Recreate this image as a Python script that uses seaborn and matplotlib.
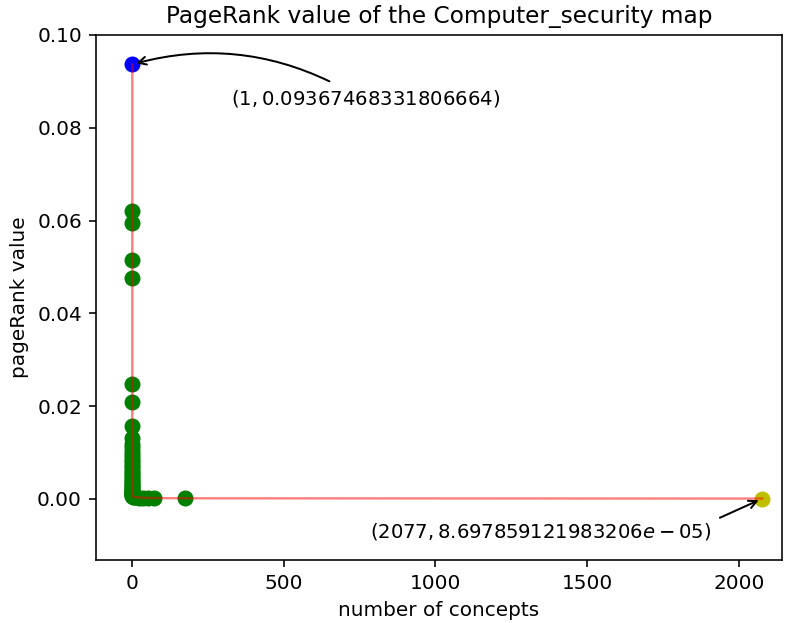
import matplotlib
matplotlib.use("Agg")
import matplotlib.pyplot as plt
import seaborn as sns
import pandas as pd

# PageRank values, ordered from the highest value down to the lowest,
# with the number of concepts that share each value
concepts = [1, 1, 1, 1, 1, 1, 1, 1, 1, 1, 1, 1, 1, 1, 1, 1, 1, 1, 1, 1,
            1, 1, 1, 1, 1, 1, 1, 1, 1, 1, 1, 1, 1, 1, 1, 1, 1, 1, 1, 1,
            2, 4, 8, 14, 23, 37, 52, 71, 175, 2077]
pagerank = [0.09367468331806664, 0.0621, 0.0594, 0.0515, 0.0476, 0.0248,
            0.0210, 0.0158, 0.0131, 0.0119, 0.0112, 0.0104, 0.0098, 0.0091,
            0.0085, 0.0079, 0.0073, 0.0068, 0.0063, 0.0058, 0.0054, 0.0049,
            0.0045, 0.0041, 0.0037, 0.0034, 0.0031, 0.0028, 0.0025, 0.0022,
            0.0020, 0.0018, 0.0016, 0.0014, 0.0012, 0.0011, 0.0010, 0.0009,
            0.0008, 0.0007, 0.00060, 0.00052, 0.00045, 0.00038, 0.00032,
            0.00027, 0.00023, 0.00020, 0.00015, 8.697859121983206e-05]

title = "PageRank value of the Computer_security map"
x_label = "number of concepts"
y_label = "pageRank value"

df = pd.DataFrame({"concepts": concepts, "pagerank": pagerank})

sns.set_style("ticks")
plt.rcParams.update({
    "font.family": ["DejaVu Sans"],
    "font.size": 10,
    "axes.titlesize": 11.6,
    "axes.labelsize": 10,
    "xtick.labelsize": 10,
    "ytick.labelsize": 10,
    "axes.edgecolor": "black",
    "xtick.color": "black",
    "ytick.color": "black",
    "text.color": "black",
    "axes.labelcolor": "black",
    "axes.linewidth": 0.8,
    "xtick.major.size": 3.5,
    "ytick.major.size": 3.5,
})

fig, ax = plt.subplots(figsize=(790 / 144, 623 / 144), dpi=144)
fig.subplots_adjust(left=96 / 790, right=782 / 790,
                    bottom=(623 - 560) / 623, top=(623 - 35) / 623)

first = df.iloc[[0]]
last = df.iloc[[-1]]
middle = df.iloc[1:-1]

sns.scatterplot(data=middle, x="concepts", y="pagerank", color="green",
                s=64, linewidth=0, ax=ax, zorder=1)
sns.scatterplot(data=first, x="concepts", y="pagerank", color="b",
                s=64, linewidth=0, ax=ax, zorder=1)
sns.scatterplot(data=last, x="concepts", y="pagerank", color="y",
                s=64, linewidth=0, ax=ax, zorder=1)
sns.lineplot(data=df, x="concepts", y="pagerank", estimator=None, sort=False,
             color="r", alpha=0.5, linewidth=1.2, ax=ax, zorder=2)

# label the highest and the lowest value
x0, y0 = concepts[0], pagerank[0]
x1, y1 = concepts[-1], pagerank[-1]
ax.annotate(f"$({x0}, {y0})$", xy=(x0, y0), xytext=(771, 0.0864),
            ha="center", va="center", fontsize=9.8,
            arrowprops=dict(arrowstyle="->", connectionstyle="arc3,rad=.2",
                            color="black", relpos=(0.41, 1.0)))
ax.annotate(f"$({x1}, {y1})$", xy=(x1, y1), xytext=(1348, -0.0071),
            ha="center", va="center", fontsize=9.8,
            arrowprops=dict(arrowstyle="->", color="black",
                            relpos=(1.0, 1.0)))

ax.set_xlim(-118.6, 2141.7)
ax.set_ylim(-0.01315, 0.100)
ax.set_xticks([0, 500, 1000, 1500, 2000])
ax.set_yticks([0.00, 0.02, 0.04, 0.06, 0.08, 0.10])
ax.set_title(title)
ax.set_xlabel(x_label)
ax.set_ylabel(y_label)

fig.savefig("out.png", dpi=144)
